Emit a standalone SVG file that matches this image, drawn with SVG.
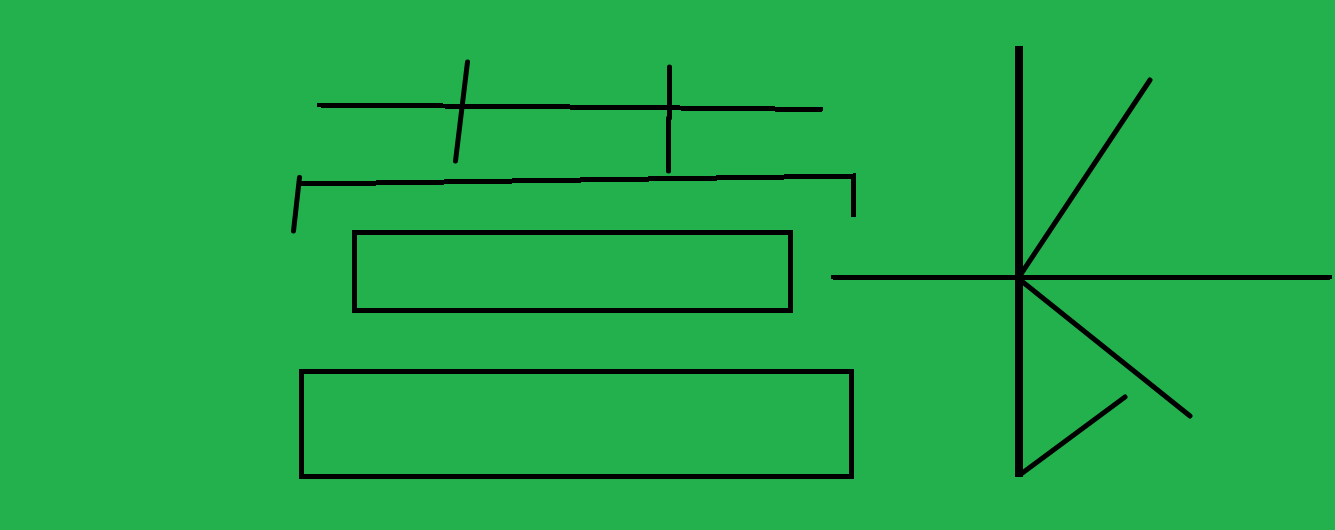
<svg xmlns="http://www.w3.org/2000/svg" width="1335" height="530" viewBox="0 0 1335 530">
<style>
.l{fill:none;stroke:#000;stroke-width:5;stroke-linecap:round;stroke-linejoin:miter}
.t{stroke-width:8;stroke-linecap:butt}
.c{shape-rendering:crispEdges}
</style>
<rect width="1335" height="530" fill="#22b14c"/>
<g id="shapes">
<path class="l c" d="M319 105L505 106.500L633 107.500L821 109.500"/>
<path class="l" d="M467.500 62L455.500 161"/>
<path class="l" d="M669.500 67L669.500 118M668.500 118L668.500 171"/>
<path class="l" d="M293.500 231L299.500 177.500"/>
<path class="l c" d="M300 183.500L342 183.500L853.500 176L853.500 215"/>
<rect class="l c" x="354.500" y="232.500" width="436" height="78"/>
<rect class="l c" x="301.500" y="371.500" width="550" height="104.500"/>
<path class="l t c" d="M1019 46V477"/>
<path class="l c" d="M833 277H1330"/>
<path class="l" d="M1019 277L1150 80"/>
<path class="l" d="M1019 279L1190 416"/>
<path class="l" d="M1021 474L1125 397"/>
</g>
</svg>
